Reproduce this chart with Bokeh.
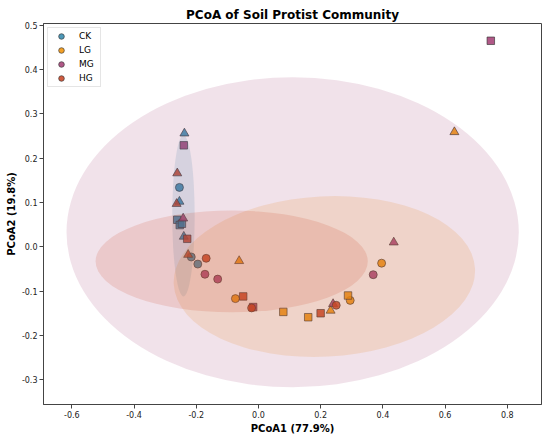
import math
from bokeh.plotting import figure
from bokeh.models import ColumnDataSource, Legend, LegendItem, Range1d, FixedTicker, PrintfTickFormatter
from bokeh.embed import file_html
from bokeh.resources import INLINE

groups = ["CK", "LG", "MG", "HG"]
colors = ["#2E86AB", "#F18F01", "#A23B72", "#C73E1D"]

markers = ["circle", "circle", "circle", "square", "square", "square",
           "triangle", "triangle", "triangle"]

ck_x = [-0.254, -0.216, -0.195, -0.261, -0.253, -0.246, -0.238, -0.254, -0.240]
ck_y = [0.134, -0.023, -0.039, 0.061, 0.049, 0.052, 0.256, 0.102, 0.023]

lg_x = [-0.074, 0.295, 0.396, 0.080, 0.160, 0.288, 0.630, -0.062, 0.232]
lg_y = [-0.117, -0.121, -0.037, -0.147, -0.159, -0.110, 0.259, -0.032, -0.144]

mg_x = [-0.172, -0.131, 0.369, 0.747, -0.240, -0.017, -0.242, 0.435, 0.240]
mg_y = [-0.062, -0.073, -0.063, 0.465, 0.229, -0.136, 0.064, 0.010, -0.129]

hg_x = [-0.168, -0.022, 0.250, -0.229, -0.049, 0.200, -0.261, -0.263, -0.226]
hg_y = [-0.026, -0.138, -0.132, 0.018, -0.112, -0.150, 0.166, 0.097, -0.018]

# confidence ellipses: centre x, centre y, width, height, angle (deg)
ell_cx = [-0.241, 0.212, 0.110, -0.086]
ell_cy = [0.070, -0.067, 0.033, -0.033]
ell_w = [0.072, 0.970, 1.454, 0.875]
ell_h = [0.364, 0.362, 0.700, 0.230]
ell_angle = [0.0, 3.0, 0.0, 0.0]

x_ticks = [-0.6, -0.4, -0.2, 0.0, 0.2, 0.4, 0.6, 0.8]
y_ticks = [-0.3, -0.2, -0.1, 0.0, 0.1, 0.2, 0.3, 0.4, 0.5]

title = "PCoA of Soil Protist Community"
x_label = "PCoA1 (77.9%)"
y_label = "PCoA2 (19.8%)"

FONT = "DejaVu Sans"
MARKER_SIZE = {"circle": 8.0, "square": 7.5, "triangle": 9.0}

p = figure(width=550, height=439, output_backend="svg", toolbar_location=None,
           x_range=Range1d(-0.691, 0.910), y_range=Range1d(-0.356, 0.504),
           min_border_left=43, min_border_right=9, min_border_top=23, min_border_bottom=35)

p.title.text = title
p.title.align = "center"
p.title.text_font = FONT
p.title.text_font_size = "12px"
p.title.text_font_style = "bold"
p.title.text_color = "#000000"
p.title.standoff = 3

p.xgrid.visible = False
p.ygrid.visible = False
p.background_fill_color = "white"
p.border_fill_color = "white"
p.outline_line_color = "#444444"
p.outline_line_width = 1

for ax, ticks, lab in ((p.xaxis, x_ticks, x_label), (p.yaxis, y_ticks, y_label)):
    ax.ticker = FixedTicker(ticks=ticks)
    ax.formatter = PrintfTickFormatter(format="%.1f")
    ax.axis_label = lab
    ax.axis_label_text_font = FONT
    ax.axis_label_text_font_size = "10px"
    ax.axis_label_text_font_style = "bold"
    ax.axis_label_text_color = "#000000"
    ax.axis_label_standoff = 2
    ax.major_label_text_font = FONT
    ax.major_label_text_font_size = "8px"
    ax.major_label_text_color = "#222222"
    ax.major_label_standoff = 2
    ax.major_tick_in = 0
    ax.major_tick_out = 4
    ax.minor_tick_in = 0
    ax.minor_tick_out = 0
    ax.axis_line_color = "#444444"
    ax.major_tick_line_color = "#444444"

data = [(ck_x, ck_y), (lg_x, lg_y), (mg_x, mg_y), (hg_x, hg_y)]
renderers = []
for (xs, ys), col in zip(data, colors):
    src = ColumnDataSource(dict(x=xs, y=ys, marker=markers,
                                size=[MARKER_SIZE[m] for m in markers]))
    r = p.scatter("x", "y", source=src, marker="marker", size="size",
                  fill_color=col, fill_alpha=0.85,
                  line_color="#333333", line_alpha=0.8, line_width=0.8)
    renderers.append(r)

ell_src = ColumnDataSource(dict(x=ell_cx, y=ell_cy, w=ell_w, h=ell_h,
                                a=[math.radians(v) for v in ell_angle], c=colors))
p.ellipse(x="x", y="y", width="w", height="h", angle="a", source=ell_src,
          fill_color="c", fill_alpha=0.15, line_color=None)

items = [LegendItem(label=g, renderers=[r], index=0) for g, r in zip(groups, renderers)]
legend = Legend(items=items, location="top_left")
legend.label_text_font = FONT
legend.label_text_font_size = "9px"
legend.label_text_color = "#000000"
legend.glyph_width = 24
legend.glyph_height = 14
legend.label_height = 14
legend.label_standoff = 6
legend.spacing = 0
legend.padding = 1
legend.margin = 4
legend.border_line_color = "#cccccc"
legend.border_line_width = 1
legend.background_fill_color = "white"
legend.background_fill_alpha = 0.9
p.add_layout(legend)

open("out.html", "w").write(file_html(p, INLINE))
